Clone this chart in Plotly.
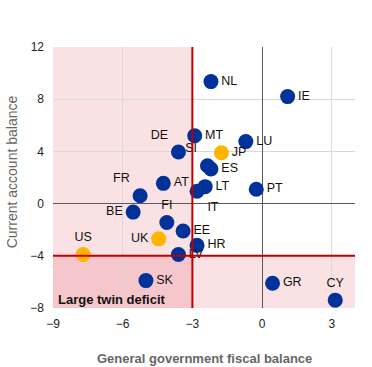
import plotly.graph_objects as go

# Euro area countries
ea_names = ["NL", "IE", "MT", "LU", "DE", "SI", "ES", "AT", "LT", "IT", "PT",
            "FR", "BE", "FI", "EE", "HR", "LV", "SK", "GR", "CY"]
ea_fiscal = [-2.2, 1.1, -2.9, -0.7, -3.6, -2.35, -2.2, -4.25, -2.45, -2.8, -0.25,
             -5.25, -5.55, -4.1, -3.4, -2.8, -3.6, -5.0, 0.45, 3.15]
ea_current = [9.35, 8.2, 5.2, 4.75, 3.95, 2.9, 2.65, 1.55, 1.3, 0.95, 1.1,
              0.6, -0.65, -1.45, -2.1, -3.2, -3.9, -5.9, -6.1, -7.4]
ea_textpos = ["middle right", "middle right", "middle right", "middle right", "top left",
              "top left", "middle right", "middle right", "middle right", "bottom right",
              "middle right", "top left", "middle left", "top center", "middle right",
              "middle right", "middle right", "middle right", "middle right", "top center"]

# Other advanced economies
oth_names = ["JP", "UK", "US"]
oth_fiscal = [-1.75, -4.45, -7.7]
oth_current = [3.9, -2.7, -3.9]
oth_textpos = ["middle right", "middle left", "top center"]

x_ticks = [-9, -6, -3, 0, 3]
y_ticks = [-8, -4, 0, 4, 8, 12]

BLUE = "#003299"
ORANGE = "#FFB400"
FONT = "Liberation Sans, Arial"
label_font = dict(family=FONT, size=12.5, color="#111")

fig = go.Figure()
fig.add_trace(go.Scatter(
    x=ea_fiscal, y=ea_current, text=ea_names, mode="markers+text",
    textposition=ea_textpos, textfont=label_font,
    marker=dict(color=BLUE, size=15, line=dict(width=0)), showlegend=False))
fig.add_trace(go.Scatter(
    x=oth_fiscal, y=oth_current, text=oth_names, mode="markers+text",
    textposition=oth_textpos, textfont=label_font,
    marker=dict(color=ORANGE, size=15, line=dict(width=0)), showlegend=False))

shade = "rgba(226,70,90,0.16)"
fig.add_shape(type="rect", x0=-9, x1=-3, y0=-8, y1=12, fillcolor=shade,
              line=dict(width=0), layer="below")
fig.add_shape(type="rect", x0=-9, x1=4, y0=-8, y1=-4, fillcolor=shade,
              line=dict(width=0), layer="below")
fig.add_shape(type="line", x0=-3, x1=-3, y0=-8, y1=12,
              line=dict(color="#C00000", width=2))
fig.add_shape(type="line", x0=-9, x1=4, y0=-4, y1=-4,
              line=dict(color="#C00000", width=2))

fig.add_annotation(x=-9, y=-8, xref="x", yref="y", text="<b>Large twin deficit</b>",
                   showarrow=False, xanchor="left", yanchor="bottom", xshift=3, yshift=-1,
                   font=dict(family=FONT, size=13, color="#111"))

# axis titles
fig.add_annotation(x=0.5, y=0.0, xref="paper", yref="paper", yshift=-41,
                   text="<b>General government fiscal balance</b>", showarrow=False,
                   xanchor="center", yanchor="top",
                   font=dict(family=FONT, size=13, color="#666"))
fig.add_annotation(x=0, y=0.52, xref="paper", yref="paper", xshift=-41,
                   text="Current account balance", showarrow=False, textangle=-90,
                   xanchor="center", yanchor="middle",
                   font=dict(family=FONT, size=14, color="#666"))

axis_common = dict(showgrid=True, gridcolor="#d9d9d9", gridwidth=1,
                   zeroline=True, zerolinecolor="#595959", zerolinewidth=1,
                   showline=False, ticks="", automargin=False,
                   tickfont=dict(family=FONT, size=12, color="#222"))
fig.update_xaxes(range=[-9, 4], tickvals=x_ticks, ticklabelstandoff=7, **axis_common)
fig.update_yaxes(range=[-8, 12], tickvals=y_ticks, ticklabelstandoff=8, **axis_common)

fig.update_layout(width=372, height=367, margin=dict(l=53, r=17, t=47, b=59),
                  plot_bgcolor="white", paper_bgcolor="white", hovermode=False)

fig.write_html("out.html", config={"displayModeBar": False},
               post_script="document.body.style.margin='0';")
